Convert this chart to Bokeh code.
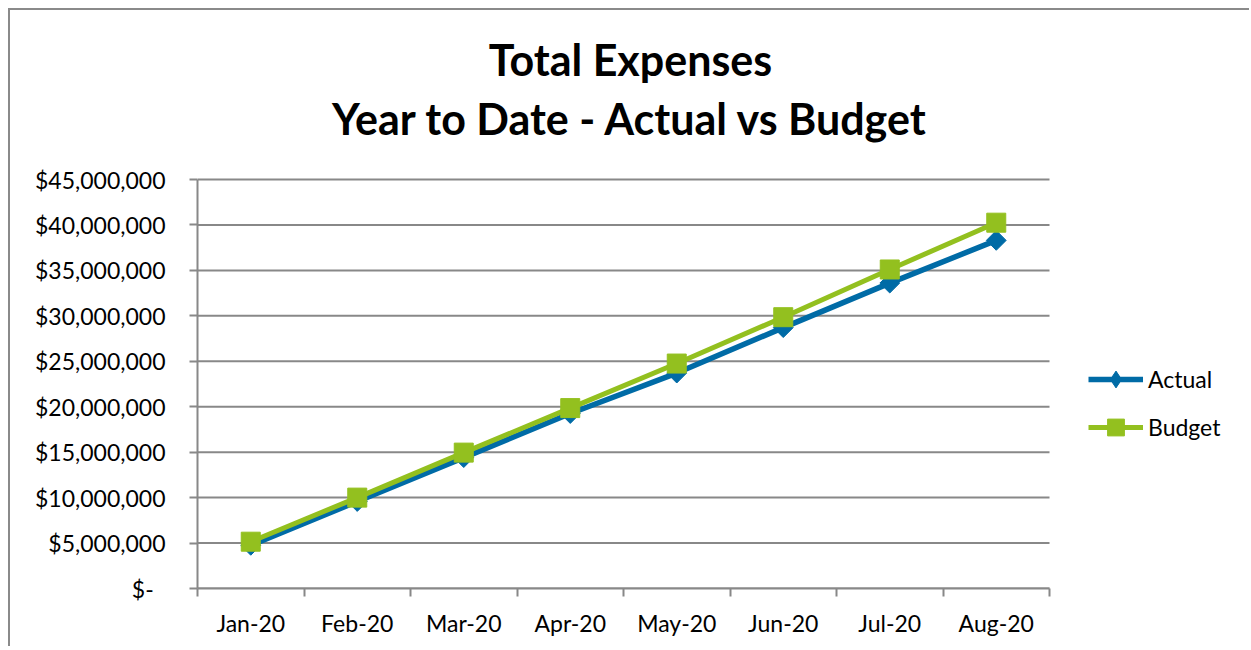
import math
from bokeh.plotting import figure
from bokeh.models import Range1d, FixedTicker, Legend, LegendItem, Label
from bokeh.embed import file_html
from bokeh.resources import INLINE

months = ["Jan-20", "Feb-20", "Mar-20", "Apr-20", "May-20", "Jun-20", "Jul-20", "Aug-20"]
actual = [4.75e6, 9.57e6, 14.4e6, 19.25e6, 23.7e6, 28.7e6, 33.6e6, 38.3e6]
budget = [5.15e6, 10.0e6, 14.95e6, 19.85e6, 24.75e6, 29.85e6, 35.1e6, 40.25e6]
y_ticks = [0, 5000000, 10000000, 15000000, 20000000, 25000000, 30000000, 35000000, 40000000, 45000000]
y_labels = ["$-\u00a0\u00a0", "$5,000,000", "$10,000,000", "$15,000,000", "$20,000,000",
            "$25,000,000", "$30,000,000", "$35,000,000", "$40,000,000", "$45,000,000"]
title_lines = ["Total Expenses", "Year to Date - Actual vs Budget"]

FONT = "Lato"
GRID = "#888888"
BLUE = "#006BA6"
GREEN = "#93C01F"

# layout (pixels)
W, H = 1241, 638
LEFT, RIGHT, TOP, BOTTOM = 187, 2, 2, 60
PLOT_W, PLOT_H = 852, 409          # pixel size of the data area (months x 0..45M)
frame_w = W - LEFT - RIGHT
frame_h = H - TOP - BOTTOM

n = len(months)
y_max = y_ticks[-1]
xs = [i + 0.5 for i in range(n)]

p = figure(width=W, height=H, output_backend="svg", toolbar_location=None,
           x_range=Range1d(0, n * frame_w / PLOT_W),
           y_range=Range1d(0, y_max * frame_h / PLOT_H),
           min_border_left=LEFT, min_border_right=RIGHT,
           min_border_top=TOP, min_border_bottom=BOTTOM)
p.styles = {"border-left": "2px solid #8a8a8a", "border-top": "2px solid #8a8a8a",
            "margin-top": "8px", "margin-left": "8px"}

p.outline_line_color = None
p.background_fill_color = "white"
p.border_fill_color = "white"
p.xgrid.visible = False
p.ygrid.visible = False

# x axis
p.xaxis.bounds = (0, n)
p.xaxis.ticker = FixedTicker(ticks=xs, minor_ticks=list(range(n + 1)))
p.xaxis.major_label_overrides = {x: m for x, m in zip(xs, months)}
p.xaxis.major_tick_out = 0
p.xaxis.major_tick_in = 0
p.xaxis.minor_tick_out = 8
p.xaxis.minor_tick_in = 0
p.xaxis.minor_tick_line_color = GRID
p.xaxis.minor_tick_line_width = 2
p.xaxis.axis_line_color = GRID
p.xaxis.axis_line_width = 2
p.xaxis.major_label_text_font = FONT
p.xaxis.major_label_text_font_size = "23px"
p.xaxis.major_label_text_color = "black"
p.xaxis.major_label_standoff = 12

# y axis
p.yaxis.bounds = (0, y_max)
p.yaxis.ticker = FixedTicker(ticks=y_ticks, minor_ticks=[])
p.yaxis.major_label_overrides = {t: l for t, l in zip(y_ticks, y_labels)}
p.yaxis.major_tick_out = 8
p.yaxis.major_tick_in = 0
p.yaxis.major_tick_line_color = GRID
p.yaxis.major_tick_line_width = 2
p.yaxis.axis_line_color = GRID
p.yaxis.axis_line_width = 2
p.yaxis.major_label_text_font = FONT
p.yaxis.major_label_text_font_size = "23px"
p.yaxis.major_label_text_color = "black"
p.yaxis.major_label_standoff = 24

# horizontal gridlines limited to the data area
p.segment(x0=[0] * len(y_ticks), x1=[n] * len(y_ticks), y0=y_ticks, y1=y_ticks,
          line_color=GRID, line_width=2)

la = p.line(xs, actual, line_color=BLUE, line_width=5.5)
# diamond used for the legend key (legend glyphs ignore angle); hidden under the rotated squares
sa_key = p.scatter(xs, actual, marker="diamond", size=14, fill_color=BLUE, line_color=BLUE)
sa = p.scatter(xs, actual, marker="square", size=14, angle=math.pi / 4,
               fill_color=BLUE, line_color=BLUE)
lb = p.line(xs, budget, line_color=GREEN, line_width=5)
sb = p.scatter(xs, budget, marker="square", size=19, fill_color=GREEN, line_color=GREEN)

# titles (screen units relative to the frame's bottom-left)
plot_bottom = H - BOTTOM + 12      # page y of the data area's bottom
for text, base_y in zip(title_lines, [61, 120]):
    p.add_layout(Label(x=630 - (LEFT + 10), y=plot_bottom - base_y, x_units="screen", y_units="screen",
                       text=text, text_align="center", text_baseline="alphabetic",
                       text_font=FONT, text_font_size="43px", text_font_style="bold",
                       text_color="black"))

legend = Legend(items=[LegendItem(label="Actual", renderers=[la, sa_key]),
                       LegendItem(label="Budget", renderers=[lb, sb])],
                location=(1088 - (LEFT + 10), plot_bottom - 450), glyph_width=55, glyph_height=42,
                spacing=6, padding=0, margin=0, label_standoff=5, border_line_color=None,
                background_fill_alpha=0, label_text_font=FONT, label_text_font_size="23px",
                label_text_color="black")
p.add_layout(legend, "center")

open("out.html", "w").write(file_html(p, INLINE))
